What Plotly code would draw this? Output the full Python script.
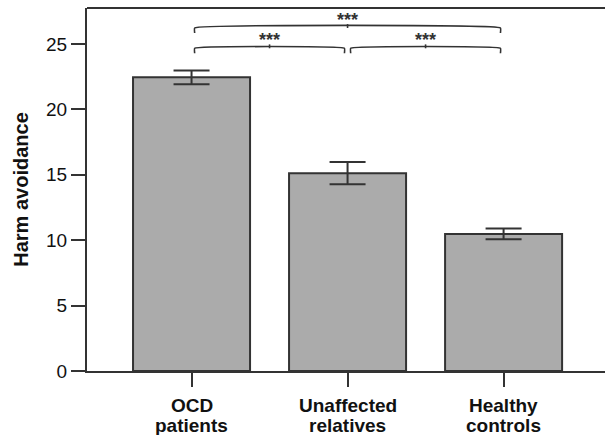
import plotly.graph_objects as go

# Group means and SEM for harm avoidance
groups = ["OCD patients", "Unaffected relatives", "Healthy controls"]
label_line1 = ["OCD", "Unaffected", "Healthy"]
label_line2 = ["patients", "relatives", "controls"]
means = [22.45, 15.12, 10.48]
sem = [0.52, 0.85, 0.41]

y_ticks = [0, 5, 10, 15, 20, 25]

# Pairwise comparisons: (left group, right group, bracket height, label)
comp_left = [0, 0, 1]
comp_right = [2, 1, 2]
comp_height = [26.22, 24.67, 24.67]
comp_label = ["***", "***", "***"]

xs = list(range(len(groups)))
dark = "#333333"

fig = go.Figure()
fig.add_trace(go.Bar(
    x=xs, y=means, width=0.75,
    marker=dict(color="#ababab", line=dict(color=dark, width=2)),
    error_y=dict(type="data", array=sem, visible=True,
                 thickness=2, width=18, color=dark),
    showlegend=False, hoverinfo="skip",
))

# Significance brackets with small hooks at the ends and a centre tick
hook = 0.38
tick_up = 0.3
gap = 0.02
for a, b, h, lab in zip(comp_left, comp_right, comp_height, comp_label):
    x0, x1 = a + gap, b - gap
    xm = (a + b) / 2
    fig.add_trace(go.Scatter(
        x=[x0, x0, x1, x1], y=[h - hook, h, h, h - hook],
        mode="lines", line=dict(color=dark, width=1.6, shape="spline", smoothing=0.3),
        showlegend=False, hoverinfo="skip",
    ))
    fig.add_trace(go.Scatter(
        x=[xm, xm], y=[h, h + tick_up], mode="lines",
        line=dict(color=dark, width=1.6), showlegend=False, hoverinfo="skip",
    ))
    fig.add_annotation(x=xm, y=h + tick_up, text="<b>" + lab + "</b>",
                       showarrow=False, yanchor="bottom", yshift=-8,
                       font=dict(family="Liberation Sans, Arial", size=18, color=dark))

# Two-line category labels under the axis
for x, l1, l2 in zip(xs, label_line1, label_line2):
    fig.add_annotation(x=x, y=0, yref="paper", text="<b>" + l1 + "</b>",
                       showarrow=False, yanchor="top", yshift=-22,
                       font=dict(family="Liberation Sans, Arial", size=19, color="#111111"))
    fig.add_annotation(x=x, y=0, yref="paper", text="<b>" + l2 + "</b>",
                       showarrow=False, yanchor="top", yshift=-42,
                       font=dict(family="Liberation Sans, Arial", size=19, color="#111111"))

# Top frame line
fig.add_shape(type="line", xref="paper", yref="paper", x0=0, x1=1, y0=1, y1=1,
              line=dict(color=dark, width=2))

fig.update_layout(
    width=605, height=435,
    margin=dict(l=87, r=0, t=8, b=64),
    paper_bgcolor="white", plot_bgcolor="white",
    font=dict(family="Liberation Sans, Arial", color="#111111"),
    xaxis=dict(range=[-0.67, 2.65], tickvals=xs, ticktext=["", "", ""],
               ticks="outside", ticklen=14, tickwidth=2, tickcolor=dark,
               showline=True, linecolor=dark, linewidth=2,
               showgrid=False, zeroline=False, fixedrange=True),
    yaxis=dict(range=[0, 27.75], tickvals=y_ticks,
               ticks="outside", ticklen=14, tickwidth=2, tickcolor=dark,
               tickfont=dict(size=19, color="#111111"),
               showline=True, linecolor=dark, linewidth=2,
               showgrid=False, zeroline=False,
               title=dict(text="<b>Harm avoidance</b>", font=dict(size=20), standoff=12)),
)

fig.write_html("out.html")
